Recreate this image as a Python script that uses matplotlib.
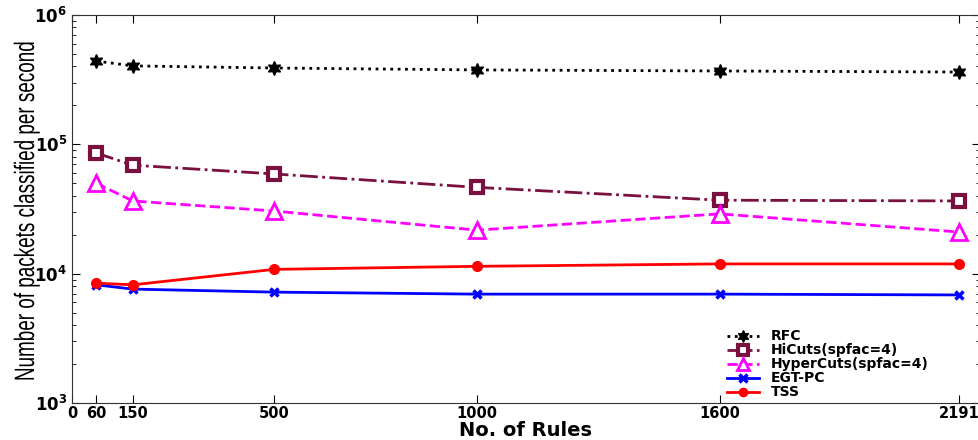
import numpy as np
import matplotlib.pyplot as plt
from matplotlib.ticker import FixedLocator, LogLocator, NullFormatter
from matplotlib.textpath import TextPath
from matplotlib.patches import PathPatch
from matplotlib.font_manager import FontProperties
from matplotlib.transforms import Affine2D

plt.rcParams['mathtext.fontset'] = 'custom'
plt.rcParams['mathtext.bf'] = 'DejaVu Sans:bold'
plt.rcParams['mathtext.rm'] = 'DejaVu Sans'

# data
rules = [60, 150, 500, 1000, 1600, 2191]
rfc = [440000, 404000, 389000, 376000, 369000, 362000]
hicuts = [85700, 69000, 59000, 46500, 37000, 36500]
hypercuts = [50000, 36500, 30500, 21700, 29000, 21000]
egtpc = [8200, 7600, 7200, 6950, 6950, 6850]
tss = [8450, 8200, 10800, 11400, 11900, 11900]
xticks = [0, 60, 150, 500, 1000, 1600, 2191]
yticks = [1e3, 1e4, 1e5, 1e6]
ylabels = [r'$\mathbf{10^{3}}$', r'$\mathbf{10^{4}}$',
           r'$\mathbf{10^{5}}$', r'$\mathbf{10^{6}}$']

bold = {'family': 'DejaVu Sans', 'weight': 'bold'}

fig = plt.figure(figsize=(9.79, 4.4), dpi=100)
ax = fig.add_axes([0.0735, 0.084, 0.9275, 0.882])

ax.plot(rules, rfc, ':', color='black', lw=2, marker=(6, 1, 0), ms=10,
        label='RFC')
ax.plot(rules, hicuts, '-.', color='#7a1040', lw=2, marker='s', ms=9,
        mfc='white', mec='#7a1040', mew=3, label='HiCuts(spfac=4)')
ax.plot(rules, hypercuts, '--', color='magenta', lw=2, marker='^', ms=11,
        mfc='white', mec='magenta', mew=2, label='HyperCuts(spfac=4)')
ax.plot(rules, egtpc, '-', color='blue', lw=2, marker='x', ms=6, mew=2.5,
        label='EGT-PC')
ax.plot(rules, tss, '-', color='red', lw=2, marker='o', ms=7,
        label='TSS')

ax.set_yscale('log')
ax.set_ylim(1e3, 1e6)
ax.set_xlim(0, 2243)
ax.xaxis.set_major_locator(FixedLocator(xticks))
ax.set_xticklabels([str(t) for t in xticks], fontdict=bold, fontsize=10.5)
ax.set_yticks(yticks)
ax.set_yticklabels(ylabels, fontsize=12)
ax.yaxis.set_minor_locator(LogLocator(base=10, subs=np.arange(2, 10)))
ax.yaxis.set_minor_formatter(NullFormatter())

ax.tick_params(which='both', direction='in', right=True, top=True)
ax.tick_params(which='major', length=6)
ax.tick_params(which='minor', length=3)
ax.tick_params(axis='x', pad=2)
for side in ['top', 'bottom', 'left', 'right']:
    ax.spines[side].set_color('#333333')

ax.set_xlabel('No. of Rules', fontdict=bold, fontsize=14, labelpad=0)

# narrow y label, squeezed from a normal sans path
label = 'Number of packets classified per second'
tp = TextPath((0, 0), label, size=28, prop=FontProperties(family='Liberation Sans'))
ext = tp.get_extents()
sx = 337 / ext.width
tr = (Affine2D().translate(-ext.x0 - ext.width / 2, 0).scale(sx, 1)
      .rotate_deg(90).translate(34, 229))
fig.add_artist(PathPatch(tp, transform=tr, fc='black', lw=0))

ax.legend(loc='lower left', frameon=False, bbox_to_anchor=(0.715, -0.005),
          prop={'family': 'DejaVu Sans', 'weight': 'bold', 'size': 10},
          handlelength=2.3, handletextpad=0.9, labelspacing=0.0,
          borderaxespad=0.2, borderpad=0.2, markerscale=0.85)

fig.savefig('out.png', dpi=100)
